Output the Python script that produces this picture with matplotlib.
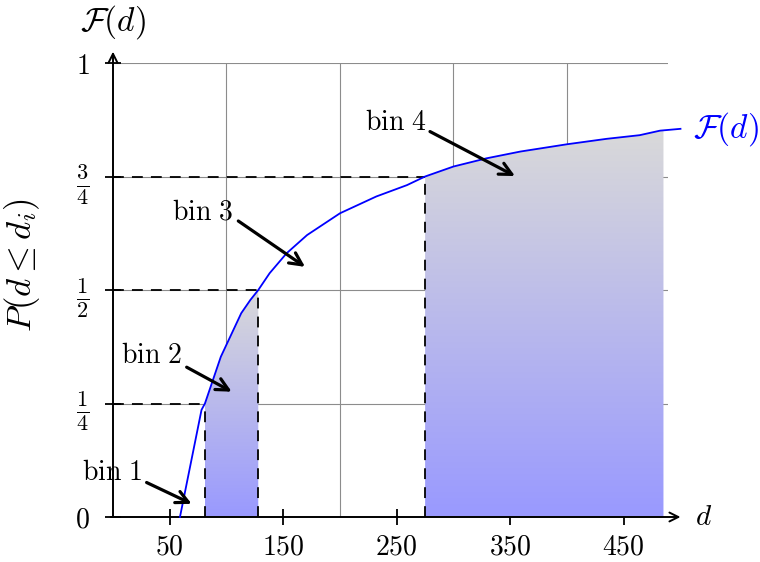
import numpy as np
import matplotlib
matplotlib.use("Agg")
import matplotlib.pyplot as plt
from matplotlib.colors import LinearSegmentedColormap
from matplotlib.patches import Polygon

plt.rcParams["mathtext.fontset"] = "cm"
plt.rcParams["font.family"] = ["DejaVu Serif"]

# Empirical CDF of the distance d
d_vals = [59, 78, 81, 95, 113, 121, 128, 138, 153, 171, 200, 232, 259, 275,
          300, 329, 359, 400, 435, 464, 482, 500]
F_vals = [0.0, 0.236, 0.25, 0.353, 0.449, 0.478, 0.5, 0.537, 0.581, 0.621, 0.669,
          0.706, 0.731, 0.75, 0.772, 0.79, 0.805, 0.821, 0.833, 0.841, 0.851, 0.855]

# Quartile boundaries d_i where F(d_i) = 1/4, 1/2, 3/4
bin_edges = [81, 128, 275]
quartiles = [0.25, 0.5, 0.75]

# Shaded bins (bin 2 and bin 4)
shaded_bins = [(81, 128), (275, 485)]

xticks = [50, 150, 250, 350, 450]
xgrid = [100, 200, 300, 400]
yticks = [0, 0.25, 0.5, 0.75, 1]
ytick_labels = [r"$0$", r"$\frac{1}{4}$", r"$\frac{1}{2}$", r"$\frac{3}{4}$", r"$1$"]

bin_labels = [r"$\mathrm{bin\ 1}$", r"$\mathrm{bin\ 2}$", r"$\mathrm{bin\ 3}$", r"$\mathrm{bin\ 4}$"]
label_xy = [(-1, 0.097), (34.4, 0.355), (79.3, 0.672), (249.3, 0.869)]
arrow_tail = [(29.6, 0.076), (64.9, 0.33), (110.4, 0.652), (279.3, 0.849)]
arrow_head = [(69.3, 0.029), (104.6, 0.276), (169.2, 0.551), (354.2, 0.751)]

FS = 20
FS_MATH = 24

fig = plt.figure(figsize=(7.6, 5.62), dpi=100)
ax = fig.add_axes([113 / 760, 45 / 562, 555 / 760, 454 / 562])
XMAX = 489
ax.set_xlim(0, XMAX)
ax.set_ylim(0, 1)
for s in ax.spines.values():
    s.set_visible(False)

# grid
for gx in xgrid:
    ax.plot([gx, gx], [0, 1], color="#8c8c8c", lw=0.8, zorder=1)
for gy in yticks[1:]:
    ax.plot([0, XMAX], [gy, gy], color="#8c8c8c", lw=0.8, zorder=1)

# shaded bins with vertical gradient
cmap = LinearSegmentedColormap.from_list("binfill", ["#9999ff", "#d9d9d9"])
grad = np.linspace(0, 1, 256).reshape(-1, 1)
dv = np.array(d_vals, dtype=float)
fv = np.array(F_vals, dtype=float)
for a, b in shaded_bins:
    fa, fb = np.interp(a, dv, fv), np.interp(b, dv, fv)
    inner = [(x, y) for x, y in zip(dv, fv) if a < x < b]
    verts = [(a, 0), (a, fa)] + inner + [(b, fb), (b, 0)]
    top = max(v[1] for v in verts)
    poly = Polygon(verts, closed=True, facecolor="none", edgecolor="none")
    ax.add_patch(poly)
    im = ax.imshow(grad, cmap=cmap, origin="lower", aspect="auto",
                   extent=[a, b, 0, top], zorder=2)
    im.set_clip_path(poly)

ax.set_xlim(0, XMAX)
ax.set_ylim(0, 1)

# dashed quartile guides
for de, q in zip(bin_edges, quartiles):
    ax.plot([0, de], [q, q], color="black", lw=1.3, ls=(0, (6, 4.5)), zorder=3)
    ax.plot([de, de], [0, q], color="black", lw=1.3, ls=(0, (6, 4.5)), zorder=3)

# CDF curve
ax.plot(d_vals, F_vals, color="#0000ff", lw=1.3, zorder=4, clip_on=False)
ax.text(d_vals[-1] + 11, F_vals[-1], r"$\mathcal{F}(d)$", color="#0000ff",
        fontsize=FS_MATH, va="center", ha="left")

# bin annotations
for lab, lxy, t, h in zip(bin_labels, label_xy, arrow_tail, arrow_head):
    ax.text(lxy[0], lxy[1], lab, fontsize=FS, ha="center", va="center", zorder=6)
    ax.annotate("", xy=h, xytext=t,
                arrowprops=dict(arrowstyle="->", lw=2.3, color="black",
                                shrinkA=0, shrinkB=0, mutation_scale=22),
                zorder=6)

# axes with arrows
ax.annotate("", xy=(500, 0), xytext=(-2, 0), annotation_clip=False,
            arrowprops=dict(arrowstyle="->", lw=1.4, color="black",
                            shrinkA=0, shrinkB=0, mutation_scale=16))
ax.annotate("", xy=(0, 1.025), xytext=(0, 0), annotation_clip=False,
            arrowprops=dict(arrowstyle="->", lw=1.4, color="black",
                            shrinkA=0, shrinkB=0, mutation_scale=16))

ax.set_xticks(xticks)
ax.set_xticklabels([rf"${v}$" for v in xticks])
ax.set_yticks(yticks)
ax.set_yticklabels(ytick_labels)
ax.tick_params(axis="both", direction="inout", length=12, width=1.3,
               labelsize=FS, color="black")
ax.tick_params(axis="x", pad=6)
ax.tick_params(axis="y", pad=11)
for lbl, txt in zip(ax.get_yticklabels(), ytick_labels):
    if "frac" in txt:
        lbl.set_fontsize(23)

ax.text(520, 0, r"$d$", fontsize=21, ha="center", va="center")
ax.text(0, 1.09, r"$\mathcal{F}(d)$", fontsize=FS_MATH, ha="center", va="center")
ax.text(-0.164, 0.555, r"$P(d \leq d_i)$", fontsize=FS_MATH + 1, ha="center",
        va="center", rotation=90, transform=ax.transAxes)

fig.savefig("out.png", dpi=100)
